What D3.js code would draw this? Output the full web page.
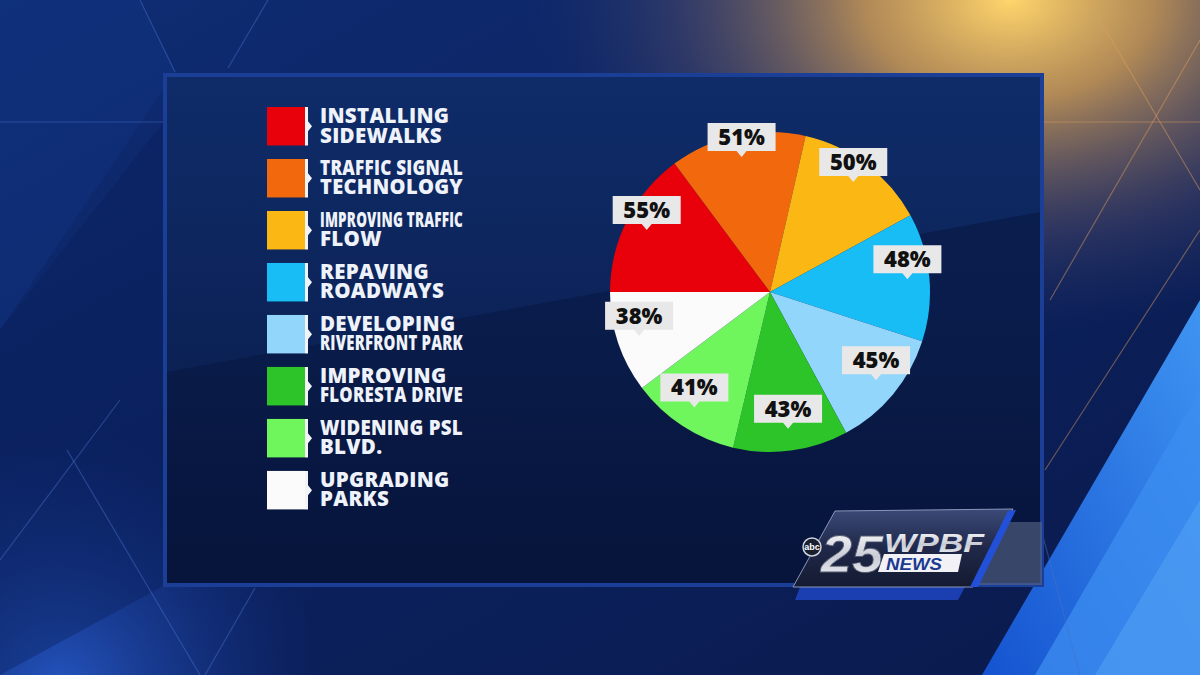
<!DOCTYPE html>
<html><head><meta charset="utf-8">
<script src="https://cdn.jsdelivr.net/npm/d3@7"></script>
<style>html,body{margin:0;padding:0;background:#0b1d52;overflow:hidden}svg{display:block}</style>
</head><body>
<svg id="c" width="1200" height="675"></svg>
<script>
// ---- data ----
const categories = ["INSTALLING|SIDEWALKS","TRAFFIC SIGNAL|TECHNOLOGY","IMPROVING TRAFFIC|FLOW","REPAVING|ROADWAYS","DEVELOPING|RIVERFRONT PARK","IMPROVING|FLORESTA DRIVE","WIDENING PSL|BLVD.","UPGRADING|PARKS"];
const values = [55, 51, 50, 48, 45, 43, 41, 38];
const valueLabels = ["55%","51%","50%","48%","45%","43%","41%","38%"];
const colors = ["#e8000b","#f2690d","#fbb815","#19bdf6","#93d6fb","#2cc428","#6ff65d","#fbfbfb"];

const svg = d3.select("#c");
const defs = svg.append("defs");

// ---- background ----
const bg = defs.append("linearGradient").attr("id","bg").attr("x1",0).attr("y1",0).attr("x2",1).attr("y2",1);
bg.append("stop").attr("offset",0).attr("stop-color","#0f2d74");
bg.append("stop").attr("offset",0.5).attr("stop-color","#0b215e");
bg.append("stop").attr("offset",1).attr("stop-color","#0a1a4c");
svg.append("rect").attr("width",1200).attr("height",675).attr("fill","url(#bg)");

const gold = defs.append("radialGradient").attr("id","gold").attr("cx",1010).attr("cy",0).attr("r",420).attr("gradientUnits","userSpaceOnUse")
  .attr("gradientTransform","translate(1010,0) scale(1.15,0.8) translate(-1010,0)");
gold.append("stop").attr("offset",0).attr("stop-color","#ffd56c").attr("stop-opacity",1);
gold.append("stop").attr("offset",0.3).attr("stop-color","#d9a254").attr("stop-opacity",0.8);
gold.append("stop").attr("offset",0.7).attr("stop-color","#6a5a6a").attr("stop-opacity",0.35);
gold.append("stop").attr("offset",1).attr("stop-color","#2a3a70").attr("stop-opacity",0);
svg.append("rect").attr("width",1200).attr("height",675).attr("fill","url(#gold)");

const glowBL = defs.append("radialGradient").attr("id","glowbl").attr("cx",60).attr("cy",690).attr("r",260).attr("gradientUnits","userSpaceOnUse");
glowBL.append("stop").attr("offset",0).attr("stop-color","#2a62d8").attr("stop-opacity",0.8);
glowBL.append("stop").attr("offset",1).attr("stop-color","#1a3a9a").attr("stop-opacity",0);
svg.append("rect").attr("width",1200).attr("height",675).attr("fill","url(#glowbl)");

// facets left
svg.append("path").attr("d","M0,0 L140,0 L175,72 L0,330 Z").attr("fill","#12378a").attr("opacity",0.35);
svg.append("path").attr("d","M0,330 L165,120 L165,585 L0,675 Z").attr("fill","#0a1c55").attr("opacity",0.35);

// bright blue right-bottom
const bb = defs.append("linearGradient").attr("id","bb").attr("x1",0).attr("y1",1).attr("x2",1).attr("y2",0);
bb.append("stop").attr("offset",0).attr("stop-color","#1553d0");
bb.append("stop").attr("offset",1).attr("stop-color","#3f95f2");
svg.append("path").attr("d","M982,675 L1200,300 L1200,675 Z").attr("fill","url(#bb)");
svg.append("path").attr("d","M1035,675 L1200,390 L1200,675 Z").attr("fill","#3c8ef0").attr("opacity",0.75);
svg.append("path").attr("d","M1095,675 L1200,500 L1200,675 Z").attr("fill","#55a6f6").attr("opacity",0.5);

// thin lines
const lines = [
  [140,0,175,72],[268,0,228,68],[0,122,165,122],[1042,122,1200,122],
  [1088,0,1200,190],[1200,40,1050,300],[1200,230,1045,470],
  [67,450,200,675],[255,588,205,675],[0,560,120,400],[1020,450,1080,675]
];
svg.append("g").selectAll("line").data(lines).join("line")
  .attr("x1",d=>d[0]).attr("y1",d=>d[1]).attr("x2",d=>d[2]).attr("y2",d=>d[3])
  .attr("stroke",(d,i)=> (i>=3 && i<=6) ? "#e0a060" : "#4a72c8").attr("stroke-opacity",0.45).attr("stroke-width",1.2);

// ---- panel ----
const pg = defs.append("linearGradient").attr("id","panel").attr("x1",0).attr("y1",0).attr("x2",0).attr("y2",1);
pg.append("stop").attr("offset",0).attr("stop-color","#0f2c69");
pg.append("stop").attr("offset",0.5).attr("stop-color","#0c2358");
pg.append("stop").attr("offset",1).attr("stop-color","#08153c");
svg.append("rect").attr("x",165).attr("y",75).attr("width",877).attr("height",510)
  .attr("fill","url(#panel)").attr("stroke","#1b3f96").attr("stroke-width",4);
svg.append("path").attr("d","M167,372 L1040,212 L1040,583 L167,583 Z").attr("fill","#07133a").attr("opacity",0.45);

// ---- legend ----
const band = d3.scaleBand().domain(d3.range(categories.length)).range([107, 107 + 8*50.3]).paddingInner(0.26);
const leg = svg.append("g").selectAll("g").data(categories).join("g")
  .attr("transform",(d,i)=>`translate(267,${band(i)})`);
leg.append("rect").attr("width",38).attr("height",band.bandwidth()).attr("fill",(d,i)=>colors[i]);
leg.append("path").attr("d",()=>{const h=band.bandwidth();return `M38,0 L41,0 L41,${h/2-5} L45,${h/2} L41,${h/2+5} L41,${h} L38,${h} Z`;})
  .attr("fill","#f2f4f8");
leg.each(function(d){
  const g = d3.select(this);
  d.split("|").forEach((line,j)=>{
    const t = g.append("text").attr("x",53).attr("y",16 + j*19.5)
      .attr("fill","#eef2fb").attr("font-family","'Open Sans', sans-serif")
      .attr("font-weight",800).attr("font-size",20.5).attr("letter-spacing",0.3).text(line);
    const w = t.node().getComputedTextLength();
    if (w > 143) t.attr("textLength",143).attr("lengthAdjust","spacingAndGlyphs");
  });
});

// ---- pie ----
const cx = 770, cy = 292, R = 160;
const pie = d3.pie().sort(null).startAngle(-Math.PI/2).endAngle(1.5*Math.PI);
const arcs = pie(values);
const arc = d3.arc().innerRadius(0).outerRadius(R);
const labelArc = d3.arc().innerRadius(138).outerRadius(138);
const pg2 = svg.append("g").attr("transform",`translate(${cx},${cy})`);
pg2.selectAll("path").data(arcs).join("path").attr("d",arc).attr("fill",(d,i)=>colors[i]);

const lab = pg2.append("g").selectAll("g").data(arcs).join("g")
  .attr("transform",d=>{const c=labelArc.centroid(d);return `translate(${c[0]},${c[1]})`;});
lab.append("path").attr("d","M-34,-34 L34,-34 L34,-6 L5,-6 L0,0 L-5,-6 L-34,-6 Z")
  .attr("fill","#e8e8e8");
lab.append("text").attr("x",0).attr("y",-12).attr("text-anchor","middle")
  .attr("font-family","'Open Sans', sans-serif").attr("font-weight",800).attr("font-size",22)
  .attr("fill","#111").text((d,i)=>valueLabels[i]);

// ---- logo ----
const logo = svg.append("g");
logo.append("rect").attr("x",973).attr("y",522).attr("width",69).attr("height",63).attr("fill","#5a6788").attr("opacity",0.6);
logo.append("path").attr("d","M800,587 L965,587 L958,600 L795,600 Z").attr("fill","#1b3fb0");
const lg = defs.append("linearGradient").attr("id","lg").attr("x1",0).attr("y1",0).attr("x2",0).attr("y2",1);
lg.append("stop").attr("offset",0).attr("stop-color","#3a4a78");
lg.append("stop").attr("offset",0.5).attr("stop-color","#20284a");
lg.append("stop").attr("offset",1).attr("stop-color","#141a30");
logo.append("path").attr("d","M835,511 L1013,509 L973,587 L793,587 Z").attr("fill","url(#lg)").attr("stroke","#8a95b8").attr("stroke-width",1);
logo.append("path").attr("d","M1008,511 L1016,510 L978,587 L970,587 Z").attr("fill","#2250d8");
const sil = defs.append("linearGradient").attr("id","sil").attr("x1",0).attr("y1",0).attr("x2",0).attr("y2",1);
sil.append("stop").attr("offset",0).attr("stop-color","#ffffff");
sil.append("stop").attr("offset",0.55).attr("stop-color","#c9ccd6");
sil.append("stop").attr("offset",1).attr("stop-color","#f4f4f8");
logo.append("circle").attr("cx",812).attr("cy",547).attr("r",9).attr("fill","#1a1f30").attr("stroke","#cfd3de").attr("stroke-width",1.5);
logo.append("text").attr("x",812).attr("y",550).attr("text-anchor","middle").attr("font-family","Arial, sans-serif").attr("font-weight",700).attr("font-size",9).attr("fill","#fff").text("abc");
logo.append("text").attr("x",821).attr("y",572).attr("font-family","'Liberation Sans', Arial, sans-serif").attr("font-weight",700).attr("font-style","italic").attr("font-size",52)
  .attr("fill","url(#sil)").attr("stroke","#555c70").attr("stroke-width",0.8).attr("textLength",62).attr("lengthAdjust","spacingAndGlyphs").text("25");
logo.append("path").attr("d","M884,554 L962,554 L958,572 L878,572 Z").attr("fill","#f2f2f6");
logo.append("text").attr("x",884).attr("y",552).attr("font-family","'Liberation Sans', Arial, sans-serif").attr("font-weight",700).attr("font-style","italic").attr("font-size",26)
  .attr("fill","url(#sil)").attr("textLength",100).attr("lengthAdjust","spacingAndGlyphs").text("WPBF");
logo.append("text").attr("x",886).attr("y",570).attr("font-family","'Liberation Sans', Arial, sans-serif").attr("font-weight",700).attr("font-style","italic").attr("font-size",17)
  .attr("fill","#1b3a90").attr("textLength",56).attr("lengthAdjust","spacingAndGlyphs").text("NEWS");
</script>
</body></html>
